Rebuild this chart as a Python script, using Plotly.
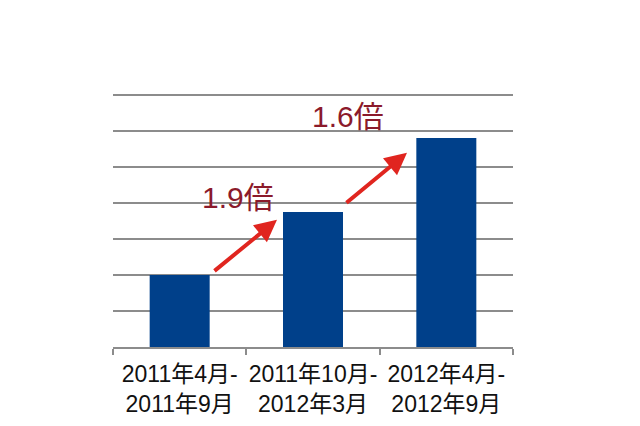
import plotly.graph_objects as go

# periods and relative values (grid units)
periods = ["2011年4月-<br>2011年9月", "2011年10月-<br>2012年3月", "2012年4月-<br>2012年9月"]
values = [2.0, 3.75, 5.8]

# growth arrows: start/end (category index, value) and label
arrow_x0 = [0.25, 1.24]
arrow_y0 = [2.08, 3.97]
arrow_x1 = [0.73, 1.705]
arrow_y1 = [3.53, 5.39]
ratio_labels = ["1.9倍", "1.6倍"]
label_x = [0.44, 1.26]
label_y = [4.14, 6.39]

font_main = "Liberation Sans, Arial, Noto Sans CJK JP"

fig = go.Figure()

fig.add_trace(go.Bar(x=periods, y=values, marker_color="#00408A",
                     marker_line_width=0, width=0.45))

# red arrows + ratio labels
for i in range(len(ratio_labels)):
    fig.add_annotation(x=arrow_x1[i], y=arrow_y1[i], ax=arrow_x0[i], ay=arrow_y0[i],
                       xref="x", yref="y", axref="x", ayref="y",
                       text="", showarrow=True, arrowhead=2, arrowsize=1.1,
                       arrowwidth=4, arrowcolor="#E0251F")
    fig.add_annotation(x=label_x[i], y=label_y[i], xref="x", yref="y",
                       text=ratio_labels[i], showarrow=False,
                       font=dict(family=font_main, size=30, color="#8B1A2B"))

# page body adds ~8px margin, so the figure is a bit smaller than the window
fig.update_layout(
    width=632, height=418,
    margin=dict(l=105, r=127, t=76, b=79),
    paper_bgcolor="white", plot_bgcolor="white",
    showlegend=False,
    xaxis=dict(type="category", range=[-0.5, 2.5], tickangle=0,
               automargin=False,
               showgrid=False, showline=True, linecolor="#8C8C8C", linewidth=2,
               ticks="outside", tickson="boundaries", ticklen=6, tickwidth=2,
               tickcolor="#8C8C8C", ticklabelstandoff=5,
               tickfont=dict(family=font_main, size=23, color="#111111")),
    yaxis=dict(range=[0, 7.3], tickmode="array", tickvals=[1, 2, 3, 4, 5, 6, 7],
               showgrid=True, gridcolor="#8C8C8C", gridwidth=2,
               automargin=False,
               zeroline=False, showticklabels=False, showline=False),
)

fig.write_html("out.html")
